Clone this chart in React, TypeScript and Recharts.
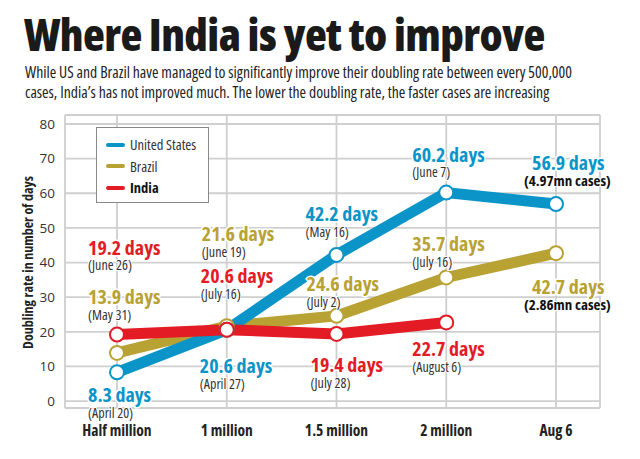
import { LineChart, Line, XAxis, YAxis, CartesianGrid, Legend, LabelList } from 'recharts'

const categories = ['Half million', '1 million', '1.5 million', '2 million', 'Aug 6']
const usDays = [8.3, 20.6, 42.2, 60.2, 56.9]
const brazilDays = [13.9, 21.6, 24.6, 35.7, 42.7]
const indiaDays = [19.2, 20.6, 19.4, 22.7, null]
const usNotes = ['(April 20)', '(April 27)', '(May 16)', '(June 7)', '(4.97mn cases)']
const brazilNotes = ['(May 31)', '(June 19)', '(July 2)', '(July 16)', '(2.86mn cases)']
const indiaNotes = ['(June 26)', '(July 16)', '(July 28)', '(August 6)', '']
const yTicks = [0, 10, 20, 30, 40, 50, 60, 70, 80]

const BLUE = '#0a94c8'
const GOLD = '#b8a234'
const RED = '#e31b25'
const FONT = '"Open Sans", "DejaVu Sans", sans-serif'
const COND = { fontStretch: 'condensed' as const }

// label placement relative to each point: [dx, dy of the big label]
const usPos = [[-29, 23], [-27, 36], [-31, -41], [-34, -38], [-24, -41]]
const brazilPos = [[-29, -56], [-25, -92], [-30, -32], [-34, -33], [-24, 34]]
const indiaPos = [[-29, -87], [-26, -54], [-26, 31], [-34, 27], [0, 0]]

const data = categories.map((name, i) => ({
  name,
  us: usDays[i],
  brazil: brazilDays[i],
  india: indiaDays[i],
}))

function makeLabel(color: string, notes: string[], pos: number[][], boldNote: boolean) {
  return (props: any) => {
    const { x, y, value, index } = props
    if (value == null || x == null) return null
    const [dx, dy] = pos[index]
    const lastBold = boldNote && index === notes.length - 1
    return (
      <g>
        <text
          x={x + dx}
          y={y + dy}
          dy="0.35em"
          fill={color}
          stroke="#fff"
          strokeWidth={3}
          paintOrder="stroke"
          fontFamily={FONT}
          fontWeight={700}
          fontSize={20}
          style={COND}
        >
          {value} days
        </text>
        <text
          x={x + dx + (lastBold ? -8 : 0)}
          y={y + dy + 18}
          dy="0.35em"
          fill={lastBold ? '#111' : '#333'}
          stroke="#fff"
          strokeWidth={2}
          paintOrder="stroke"
          fontFamily={FONT}
          fontWeight={lastBold ? 700 : 400}
          fontSize={lastBold ? 15 : 14}
          style={COND}
        >
          {notes[index]}
        </text>
      </g>
    )
  }
}

const legendItems = [
  { label: 'United States', color: BLUE, bold: false },
  { label: 'Brazil', color: GOLD, bold: false },
  { label: 'India', color: RED, bold: true },
]

function LegendBox() {
  return (
    <div
      style={{
        width: 113,
        height: 76,
        border: '1px solid #888',
        background: '#fff',
        boxSizing: 'border-box',
        padding: '6px 0 0 9px',
        fontFamily: FONT,
        fontStretch: 'condensed',
        fontSize: 14.5,
        color: '#333',
      }}
    >
      {legendItems.map((it) => (
        <div key={it.label} style={{ display: 'flex', alignItems: 'center', height: 21.5 }}>
          <span style={{ width: 19, height: 4, borderRadius: 2, background: it.color, marginRight: 5 }} />
          <span style={{ fontWeight: it.bold ? 700 : 400, color: it.bold ? '#111' : '#333' }}>{it.label}</span>
        </div>
      ))}
    </div>
  )
}

function YLabel(props: any) {
  const vb = props.viewBox
  const cy = vb.y + vb.height / 2 + 1
  return (
    <text
      x={27}
      y={cy}
      transform={`rotate(-90, 27, ${cy})`}
      textAnchor="middle"
      dominantBaseline="central"
      fontFamily={FONT}
      fontWeight={700}
      fontSize={14}
      fill="#222"
      style={COND}
    >
      Doubling rate in number of days
    </text>
  )
}

export default function App() {
  return (
    <div style={{ position: 'absolute', left: 0, top: 0, width: 640, height: 459, background: '#fff', overflow: 'hidden' }}>
      <div
        style={{
          position: 'absolute',
          left: 24,
          top: 3,
          fontFamily: FONT,
          fontStretch: 'condensed',
          fontWeight: 800,
          fontSize: 45,
          letterSpacing: -0.6,
          color: '#1a1a1a',
          whiteSpace: 'nowrap',
        }}
      >
        Where India is yet to improve
      </div>
      <div
        style={{
          position: 'absolute',
          left: 25,
          top: 62,
          width: 610,
          fontFamily: FONT,
          fontStretch: 'condensed',
          fontSize: 15.7,
          lineHeight: '20px',
          color: '#222',
          whiteSpace: 'nowrap',
        }}
      >
        While US and Brazil have managed to significantly improve their doubling rate between every 500,000
        <br />
        cases, India’s has not improved much. The lower the doubling rate, the faster cases are increasing
      </div>
      <div style={{ position: 'absolute', left: 0, top: 0 }}>
        <LineChart width={640} height={459} data={data} margin={{ top: 115, right: 40, bottom: 21, left: 5 }}>
          <CartesianGrid stroke="#cfcfcf" strokeWidth={1.8} />
          <XAxis
            dataKey="name"
            height={30}
            padding={{ left: 52, right: 44 }}
            axisLine={false}
            tickLine={false}
            tickSize={0}
            tickMargin={17}
            tick={{ fill: '#222', fontFamily: FONT, fontWeight: 700, fontSize: 15.5, style: COND }}
            interval={0}
          />
          <YAxis
            width={60}
            domain={[-2, 82.6]}
            ticks={yTicks}
            axisLine={false}
            tickLine={false}
            tickSize={0}
            tickMargin={10}
            tick={{ fill: '#333', fontFamily: FONT, fontSize: 13.5 }}
            label={<YLabel />}
          />
          <Legend
            layout="vertical"
            align="center"
            verticalAlign="middle"
            wrapperStyle={{ position: 'absolute', left: 96, top: 127, width: 'auto' }}
            content={() => <LegendBox />}
          />
          <Line
            dataKey="brazil"
            stroke={GOLD}
            strokeWidth={11}
            dot={{ r: 7, fill: '#fff', stroke: GOLD, strokeWidth: 2 }}
            isAnimationActive={false}
          />
          <Line
            dataKey="us"
            stroke={BLUE}
            strokeWidth={11}
            dot={{ r: 7, fill: '#fff', stroke: BLUE, strokeWidth: 2 }}
            isAnimationActive={false}
          />
          <Line
            dataKey="india"
            stroke={RED}
            strokeWidth={11}
            dot={{ r: 7, fill: '#fff', stroke: RED, strokeWidth: 2 }}
            isAnimationActive={false}
          />
          <Line dataKey="us" stroke="none" dot={false} legendType="none" isAnimationActive={false}>
            <LabelList dataKey="us" content={makeLabel(BLUE, usNotes, usPos, true)} />
          </Line>
          <Line dataKey="brazil" stroke="none" dot={false} legendType="none" isAnimationActive={false}>
            <LabelList dataKey="brazil" content={makeLabel(GOLD, brazilNotes, brazilPos, true)} />
          </Line>
          <Line dataKey="india" stroke="none" dot={false} legendType="none" isAnimationActive={false}>
            <LabelList dataKey="india" content={makeLabel(RED, indiaNotes, indiaPos, false)} />
          </Line>
        </LineChart>
      </div>
    </div>
  )
}
